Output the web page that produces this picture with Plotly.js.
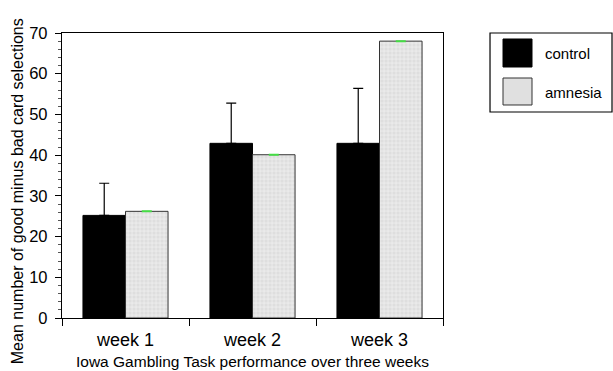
<!DOCTYPE html>
<html><head><meta charset="utf-8">
<script src="https://cdn.plot.ly/plotly-3.0.1.min.js"></script>
<style>html,body{margin:0;padding:0;background:#fff}#chart{width:613px;height:371px}</style>
</head><body><div id="chart"></div>
<script>
const categories = ["week 1", "week 2", "week 3"];
const controlValues = [25.2, 42.9, 42.9];
const controlErrors = [7.9, 9.9, 13.5];
const amnesiaValues = [26.2, 40.1, 68.0];
const amnesiaErrors = [0, 0, 0];
const seriesNames = ["control", "amnesia"];
const yTitle = "Mean number of good minus bad card selections";
const xTitle = "Iowa Gambling Task performance over three weeks";

const font = "Liberation Sans, Arial, Helvetica, sans-serif";

const traces = [
  {
    type: "bar", name: seriesNames[0], x: categories, y: controlValues,
    marker: {color: "#000", line: {color: "#000", width: 1}},
    error_y: {type: "data", symmetric: false, array: controlErrors, arrayminus: [0,0,0],
      color: "#000", thickness: 1.2, width: 5},
    showlegend: false
  },
  {
    type: "bar", name: seriesNames[1], x: categories, y: amnesiaValues,
    marker: {color: "#e2e2e2", line: {color: "#333", width: 1},
      pattern: {shape: "+", bgcolor: "#dedede", fgcolor: "#f6f6f6", size: 4, solidity: 0.25}},
    error_y: {type: "data", symmetric: false, array: amnesiaErrors, arrayminus: [0,0,0],
      color: "#44dd44", thickness: 2, width: 5},
    showlegend: false
  }
];

const layout = {
  width: 613, height: 371,
  margin: {l: 62, r: 170, t: 33, b: 53},
  paper_bgcolor: "#fff", plot_bgcolor: "#fff",
  font: {family: font, color: "#000"},
  barmode: "group", bargap: 0.33, bargroupgap: 0,
  xaxis: {
    type: "category", range: [-0.5, 2.5],
    showline: true, linecolor: "#000", linewidth: 1.2, mirror: true,
    ticks: "outside", tickson: "boundaries", ticklen: 7, tickcolor: "#000",
    ticklabelstandoff: 5,
    showgrid: false, zeroline: false,
    tickfont: {size: 18, family: font}
  },
  yaxis: {
    range: [0, 70], dtick: 10,
    showline: true, linecolor: "#000", linewidth: 1.2, mirror: true,
    ticks: "outside", ticklen: 6, tickcolor: "#000",
    ticklabelstandoff: 4,
    minor: {dtick: 2, ticks: "outside", ticklen: 3, tickcolor: "#555", showgrid: false},
    showgrid: false, zeroline: false,
    tickfont: {size: 16.5, family: font}
  },
  shapes: [
    {type: "rect", xref: "paper", yref: "paper", x0: 1.1234, x1: 1.4436, y0: 0.7228, y1: 1.0,
      line: {color: "#000", width: 1.2}, fillcolor: "rgba(0,0,0,0)"},
    {type: "rect", xref: "paper", yref: "paper", x0: 1.1575, x1: 1.2336, y0: 0.8807, y1: 0.979,
      line: {color: "#000", width: 1}, fillcolor: "#000"},
    {type: "rect", xref: "paper", yref: "paper", x0: 1.1575, x1: 1.2336, y0: 0.7474, y1: 0.8421,
      line: {color: "#333", width: 1}, fillcolor: "#e0e0e0"}
  ],
  annotations: [
    {xref: "paper", yref: "paper", x: 1.2625, y: 0.9298, text: seriesNames[0], showarrow: false,
      xanchor: "left", yanchor: "middle", font: {size: 15, family: font}},
    {xref: "paper", yref: "paper", x: 1.2625, y: 0.7895, text: seriesNames[1], showarrow: false,
      xanchor: "left", yanchor: "middle", font: {size: 15, family: font}},
    {xref: "paper", yref: "paper", x: -0.118, y: 0.445, text: yTitle, showarrow: false, textangle: -90,
      xanchor: "center", yanchor: "middle", font: {size: 16, family: font}},
    {xref: "paper", yref: "paper", x: 0.5, y: -0.151, text: xTitle, showarrow: false,
      xanchor: "center", yanchor: "middle", font: {size: 15.5, family: font}}
  ]
};

Plotly.newPlot("chart", traces, layout, {displayModeBar: false, staticPlot: true});
</script></body></html>
